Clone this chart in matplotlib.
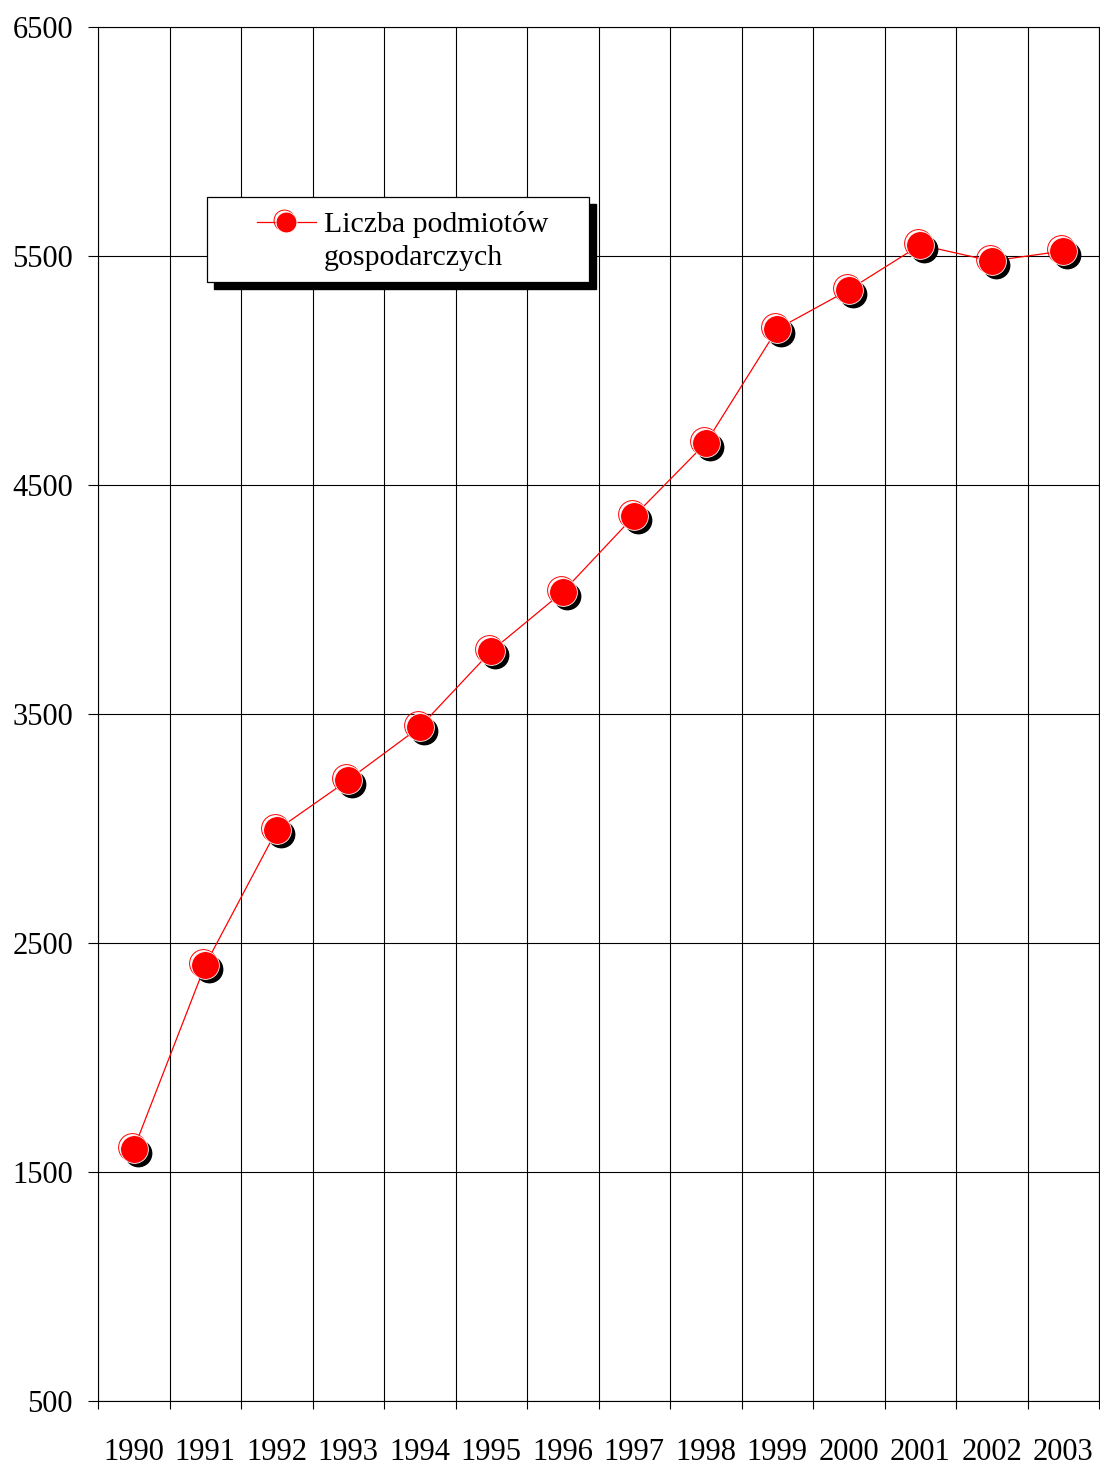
import matplotlib
matplotlib.use("Agg")
import matplotlib.pyplot as plt
import matplotlib.transforms as mtransforms
from matplotlib.patches import Rectangle
from matplotlib.lines import Line2D
import numpy as np

years = ["1990", "1991", "1992", "1993", "1994", "1995", "1996",
         "1997", "1998", "1999", "2000", "2001", "2002", "2003"]
values = [1600, 2404, 2993, 3212, 3443, 3775, 4033,
          4365, 4683, 5181, 5352, 5548, 5478, 5522]
yticks = [500, 1500, 2500, 3500, 4500, 5500, 6500]
series_label = "Liczba podmiotów\ngospodarczych"

plt.rcParams['font.family'] = ['Liberation Serif', 'DejaVu Serif']

fig = plt.figure(figsize=(11, 14.65), dpi=100)
ax = fig.add_axes([98/1100, 1 - 1401/1465, 1001/1100, (1401-27)/1465])

x = np.arange(len(years))
ax.set_xlim(-0.5, len(years) - 0.5)
ax.set_ylim(500, 6500)
ax.set_yticks(yticks)
ax.set_yticklabels([str(t) for t in yticks], fontsize=22)
ax.set_xticks(x)
ax.set_xticklabels(years, fontsize=22)
ax.set_xticks(np.arange(-0.5, len(years)), minor=True)

ax.tick_params(axis='y', direction='out', length=7, width=0.8, pad=11)
ax.tick_params(axis='x', which='major', length=0, pad=27)
ax.tick_params(axis='x', which='minor', direction='out', length=6, width=0.8)
ax.grid(axis='y', which='major', color='black', lw=0.8, zorder=0.5)
ax.grid(axis='x', which='minor', color='black', lw=0.8, zorder=0.5)
ax.set_axisbelow(True)
for s in ax.spines.values():
    s.set_color('black')
    s.set_linewidth(0.8)

# line
ax.plot(x, values, color='red', lw=0.9, zorder=2)
# shadow
sh = mtransforms.offset_copy(ax.transData, fig=fig, x=4, y=-4, units='dots')
ax.plot(x, values, ls='none', marker='o', ms=20, mfc='black', mec='black',
        mew=0, transform=sh, zorder=3)
# highlight ring
hl = mtransforms.offset_copy(ax.transData, fig=fig, x=-2, y=2, units='dots')
ax.plot(x, values, ls='none', marker='o', ms=20, mfc='none', mec='red',
        mew=0.7, transform=hl, zorder=3.5)
# main markers
ax.plot(x, values, ls='none', marker='o', ms=20, mfc='red', mec='white',
        mew=0.6, zorder=4)

# manual legend
def ax_x(px):
    return (px - 98) / 1002
def ax_y(py):
    return (1401 - py) / 1374

bx0, bx1 = ax_x(207), ax_x(589)
by0, by1 = ax_y(282), ax_y(197)
ax.add_patch(Rectangle((bx0 + 7/1002, by0 - 7/1374), bx1 - bx0, by1 - by0,
                       transform=ax.transAxes, facecolor='black',
                       edgecolor='black', zorder=5))
ax.add_patch(Rectangle((bx0, by0), bx1 - bx0, by1 - by0,
                       transform=ax.transAxes, facecolor='white',
                       edgecolor='black', lw=0.9, zorder=6))
ly = ax_y(222)
ax.add_line(Line2D([ax_x(257), ax_x(316)], [ly, ly], transform=ax.transAxes,
                   color='red', lw=0.9, zorder=7))
hl2 = mtransforms.offset_copy(ax.transAxes, fig=fig, x=-2, y=2, units='dots')
ax.add_line(Line2D([ax_x(286)], [ly], transform=hl2, ls='none', marker='o',
                   ms=15, mfc='none', mec='red', mew=0.7, zorder=7))
ax.add_line(Line2D([ax_x(286)], [ly], transform=ax.transAxes, ls='none',
                   marker='o', ms=15, mfc='red', mec='white', mew=0.6,
                   zorder=8))
ax.text(ax_x(324), ax_y(241), series_label, transform=ax.transAxes,
        fontsize=21.5, va='center', ha='left', linespacing=1.35, zorder=9)

fig.savefig("out.png", dpi=100)
